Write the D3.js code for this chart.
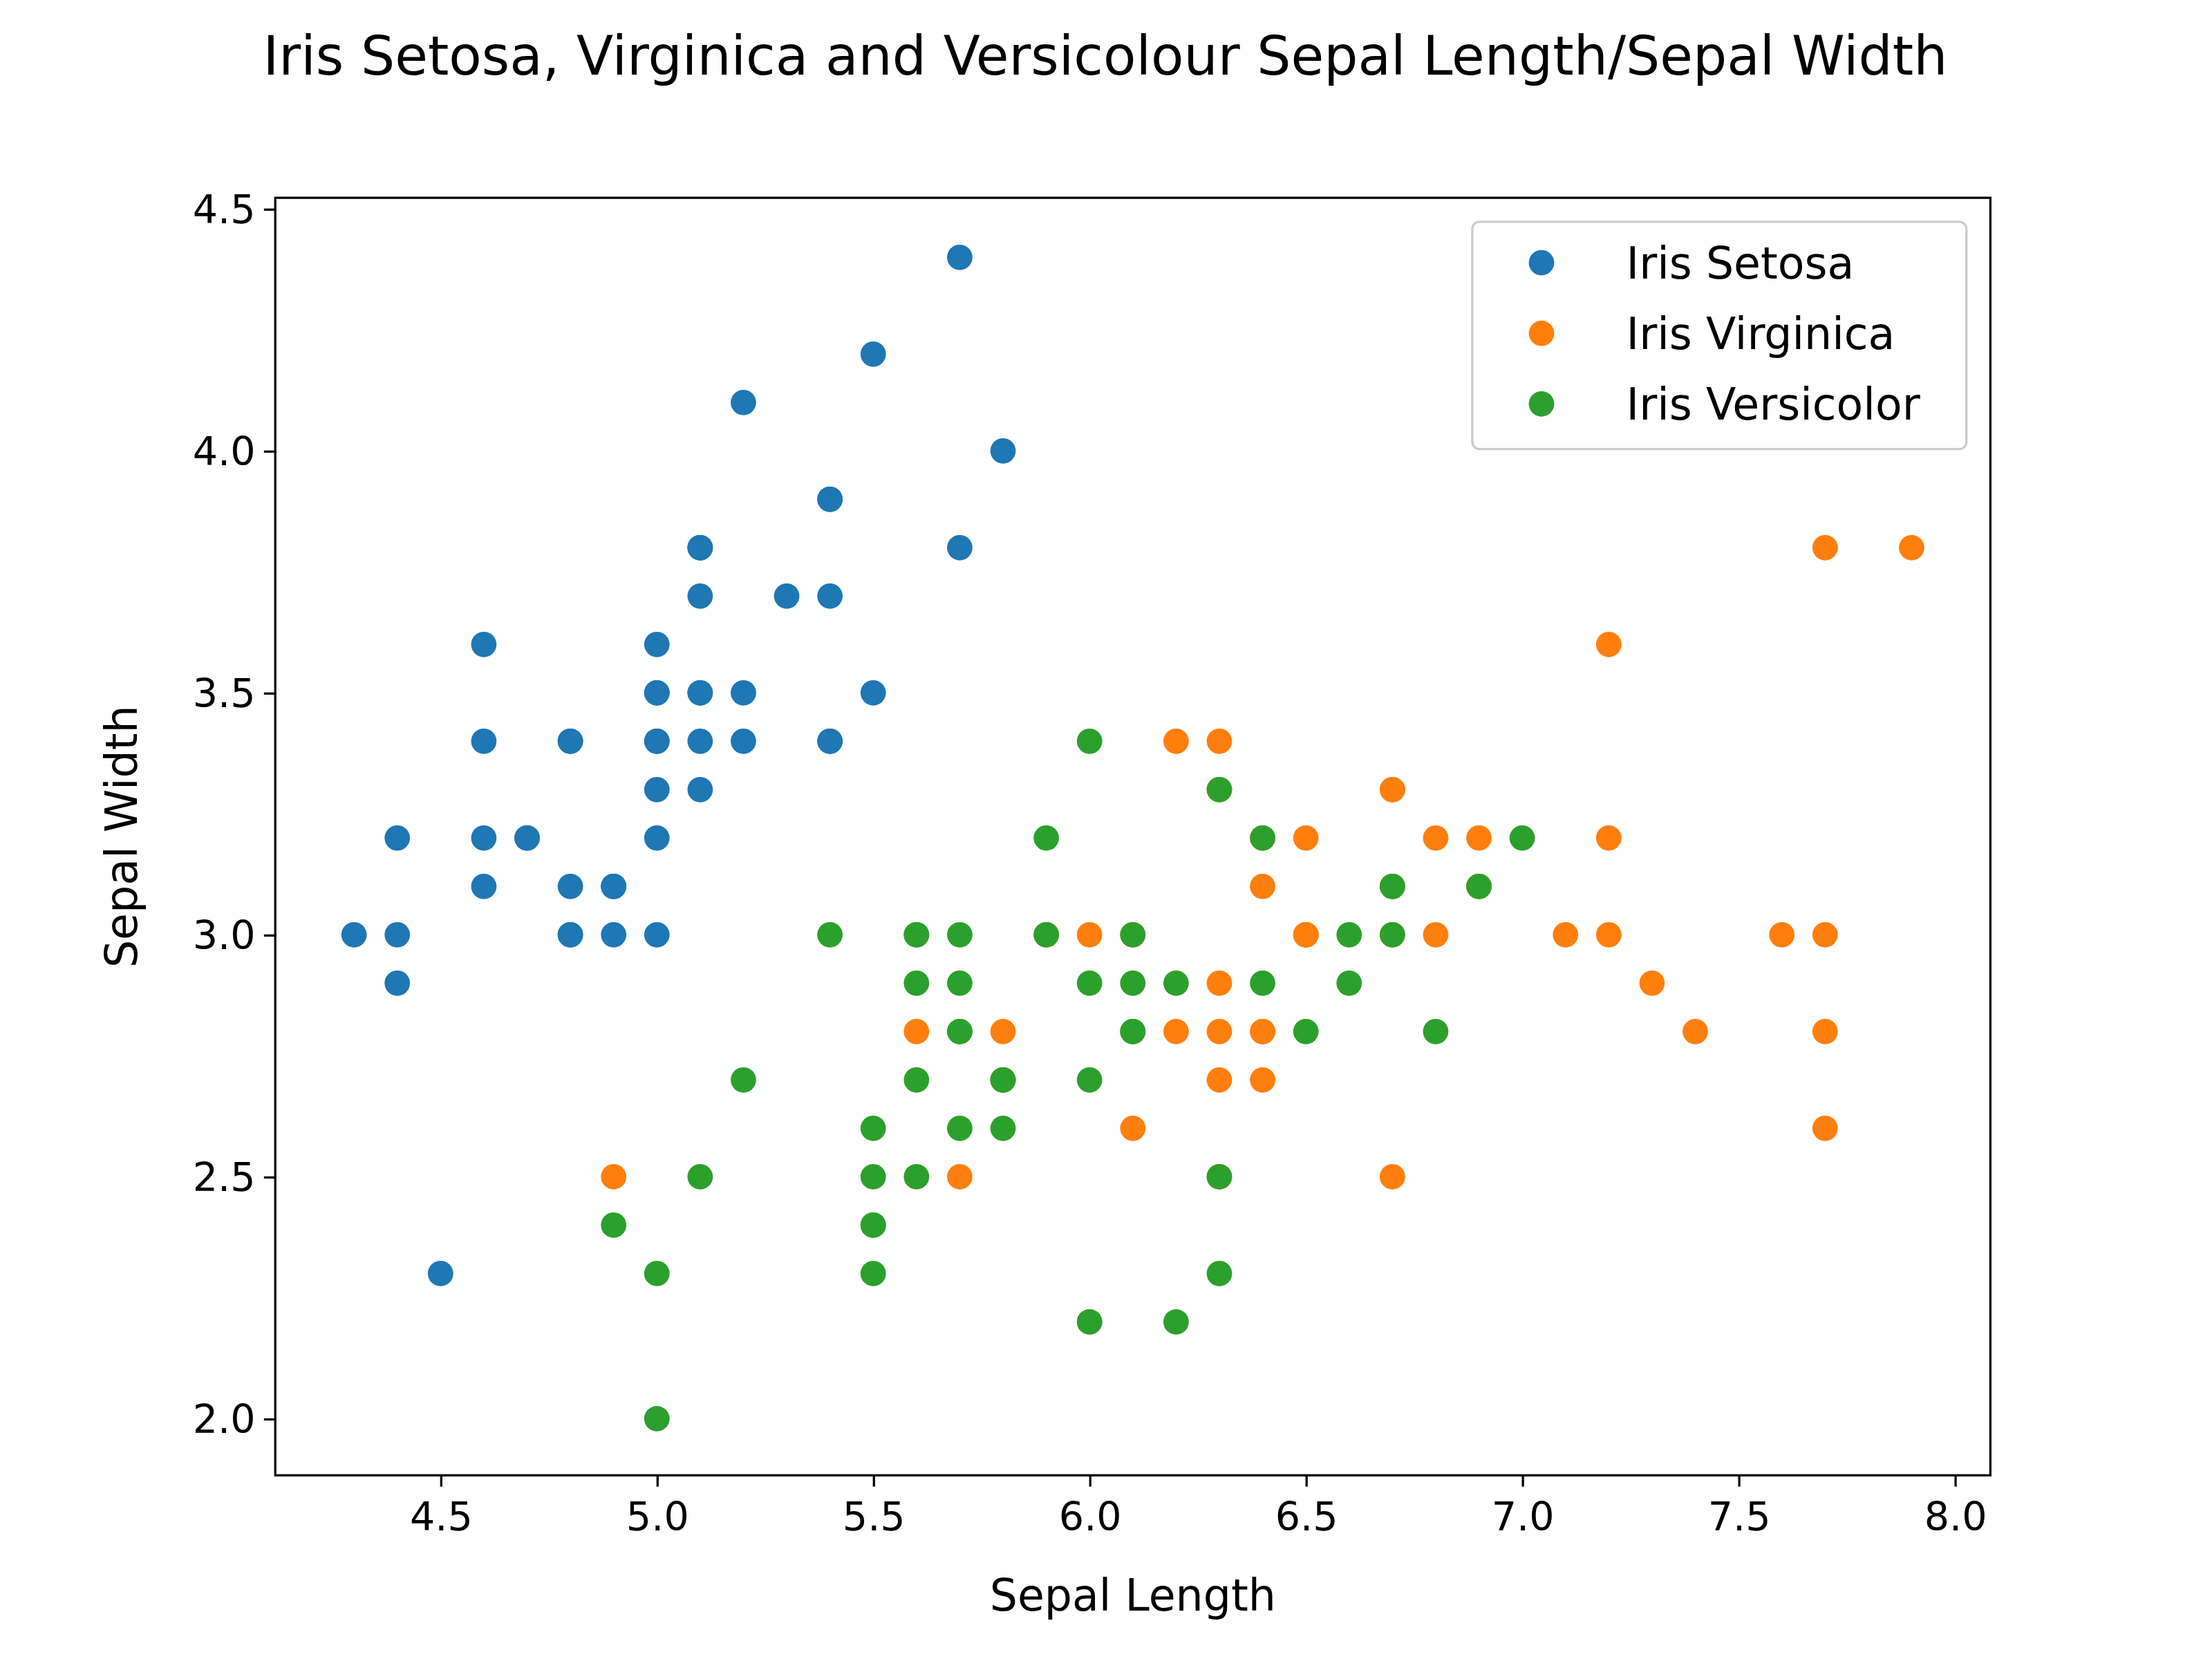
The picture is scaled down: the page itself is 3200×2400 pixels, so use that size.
<!DOCTYPE html><html><head><meta charset="utf-8"><script src="https://cdn.jsdelivr.net/npm/d3@7"></script>
<style>body{margin:0;background:#fff}text{font-family:"DejaVu Sans";fill:#000}</style></head><body><svg id="c"></svg><script>
const setosa=[[5.1,3.5],[4.9,3.0],[4.7,3.2],[4.6,3.1],[5.0,3.6],[5.4,3.9],[4.6,3.4],[5.0,3.4],[4.4,2.9],[4.9,3.1],[5.4,3.7],[4.8,3.4],[4.8,3.0],[4.3,3.0],[5.8,4.0],[5.7,4.4],[5.4,3.9],[5.1,3.5],[5.7,3.8],[5.1,3.8],[5.4,3.4],[5.1,3.7],[4.6,3.6],[5.1,3.3],[4.8,3.4],[5.0,3.0],[5.0,3.4],[5.2,3.5],[5.2,3.4],[4.7,3.2],[4.8,3.1],[5.4,3.4],[5.2,4.1],[5.5,4.2],[4.9,3.1],[5.0,3.2],[5.5,3.5],[4.9,3.1],[4.4,3.0],[5.1,3.4],[5.0,3.5],[4.5,2.3],[4.4,3.2],[5.0,3.5],[5.1,3.8],[4.8,3.0],[5.1,3.8],[4.6,3.2],[5.3,3.7],[5.0,3.3]];
const virginica=[[6.3,3.3],[5.8,2.7],[7.1,3.0],[6.3,2.9],[6.5,3.0],[7.6,3.0],[4.9,2.5],[7.3,2.9],[6.7,2.5],[7.2,3.6],[6.5,3.2],[6.4,2.7],[6.8,3.0],[5.7,2.5],[5.8,2.8],[6.4,3.2],[6.5,3.0],[7.7,3.8],[7.7,2.6],[6.0,2.2],[6.9,3.2],[5.6,2.8],[7.7,2.8],[6.3,2.7],[6.7,3.3],[7.2,3.2],[6.2,2.8],[6.1,3.0],[6.4,2.8],[7.2,3.0],[7.4,2.8],[7.9,3.8],[6.4,2.8],[6.3,2.8],[6.1,2.6],[7.7,3.0],[6.3,3.4],[6.4,3.1],[6.0,3.0],[6.9,3.1],[6.7,3.1],[6.9,3.1],[5.8,2.7],[6.8,3.2],[6.7,3.3],[6.7,3.0],[6.3,2.5],[6.5,3.0],[6.2,3.4],[5.9,3.0]];
const versicolor=[[7.0,3.2],[6.4,3.2],[6.9,3.1],[5.5,2.3],[6.5,2.8],[5.7,2.8],[6.3,3.3],[4.9,2.4],[6.6,2.9],[5.2,2.7],[5.0,2.0],[5.9,3.0],[6.0,2.2],[6.1,2.9],[5.6,2.9],[6.7,3.1],[5.6,3.0],[5.8,2.7],[6.2,2.2],[5.6,2.5],[5.9,3.2],[6.1,2.8],[6.3,2.5],[6.1,2.8],[6.4,2.9],[6.6,3.0],[6.8,2.8],[6.7,3.0],[6.0,2.9],[5.7,2.6],[5.5,2.4],[5.5,2.4],[5.8,2.7],[6.0,2.7],[5.4,3.0],[6.0,3.4],[6.7,3.1],[6.3,2.3],[5.6,3.0],[5.5,2.5],[5.5,2.6],[6.1,3.0],[5.8,2.6],[5.0,2.3],[5.6,2.7],[5.7,3.0],[5.7,2.9],[6.2,2.9],[5.1,2.5],[5.7,2.8]];
const seriesNames=["Iris Setosa","Iris Virginica","Iris Versicolor"];
const colors=["#1f77b4","#ff7f0e","#2ca02c"];
const xTicks=[4.5,5.0,5.5,6.0,6.5,7.0,7.5,8.0], yTicks=[2.0,2.5,3.0,3.5,4.0,4.5];
const W=1567,H=1175,L=195,R=1410,T=140,B=1045;
const svg=d3.select("#c").attr("width",3200).attr("height",2400).attr("viewBox",`0 0 ${W} ${H}`);
const x=d3.scaleLinear().domain([4.118,8.082]).range([L,R]);
const y=d3.scaleLinear().domain([1.883,4.523]).range([B,T]);
const fmt=d3.format(".1f");
const xa=svg.append("g").attr("transform",`translate(0,${B})`).call(d3.axisBottom(x).tickValues(xTicks).tickFormat(fmt).tickSize(8).tickSizeOuter(0));
const ya=svg.append("g").attr("transform",`translate(${L},0)`).call(d3.axisLeft(y).tickValues(yTicks).tickFormat(fmt).tickSize(8).tickSizeOuter(0));
[xa,ya].forEach(a=>{a.select(".domain").remove();a.selectAll("line").attr("stroke","#000").attr("stroke-width",1.6);a.selectAll("text").attr("font-size",28).attr("font-family","DejaVu Sans");});
xa.selectAll("text").attr("y",14).attr("dy","0.9em");ya.selectAll("text").attr("x",-14).attr("dy","0.35em");
[setosa,virginica,versicolor].forEach((d,i)=>svg.append("g").selectAll("circle").data(d).join("circle").attr("cx",p=>x(p[0])).attr("cy",p=>y(p[1])).attr("r",9).attr("fill",colors[i]));
svg.append("rect").attr("x",L).attr("y",T).attr("width",R-L).attr("height",B-T).attr("fill","none").attr("stroke","#000").attr("stroke-width",1.6);
svg.append("text").attr("x",(L+R)/2).attr("y",1141).attr("text-anchor","middle").attr("font-size",31).text("Sepal Length");
svg.append("text").attr("transform",`translate(97,${(T+B)/2}) rotate(-90)`).attr("text-anchor","middle").attr("font-size",31).text("Sepal Width");
svg.append("text").attr("x",783).attr("y",53).attr("text-anchor","middle").attr("font-size",38).text("Iris Setosa, Virginica and Versicolour Sepal Length/Sepal Width");
const lg=svg.append("g");
lg.append("rect").attr("x",1043).attr("y",157).attr("width",350).attr("height",161).attr("rx",5).attr("fill","#fff").attr("fill-opacity",0.8).attr("stroke","#ccc").attr("stroke-width",1.6);
seriesNames.forEach((n,i)=>{const cy=186+i*50;lg.append("circle").attr("cx",1092).attr("cy",cy).attr("r",9).attr("fill",colors[i]);lg.append("text").attr("x",1152).attr("y",cy+11).attr("font-size",31).text(n);});
</script></body></html>
